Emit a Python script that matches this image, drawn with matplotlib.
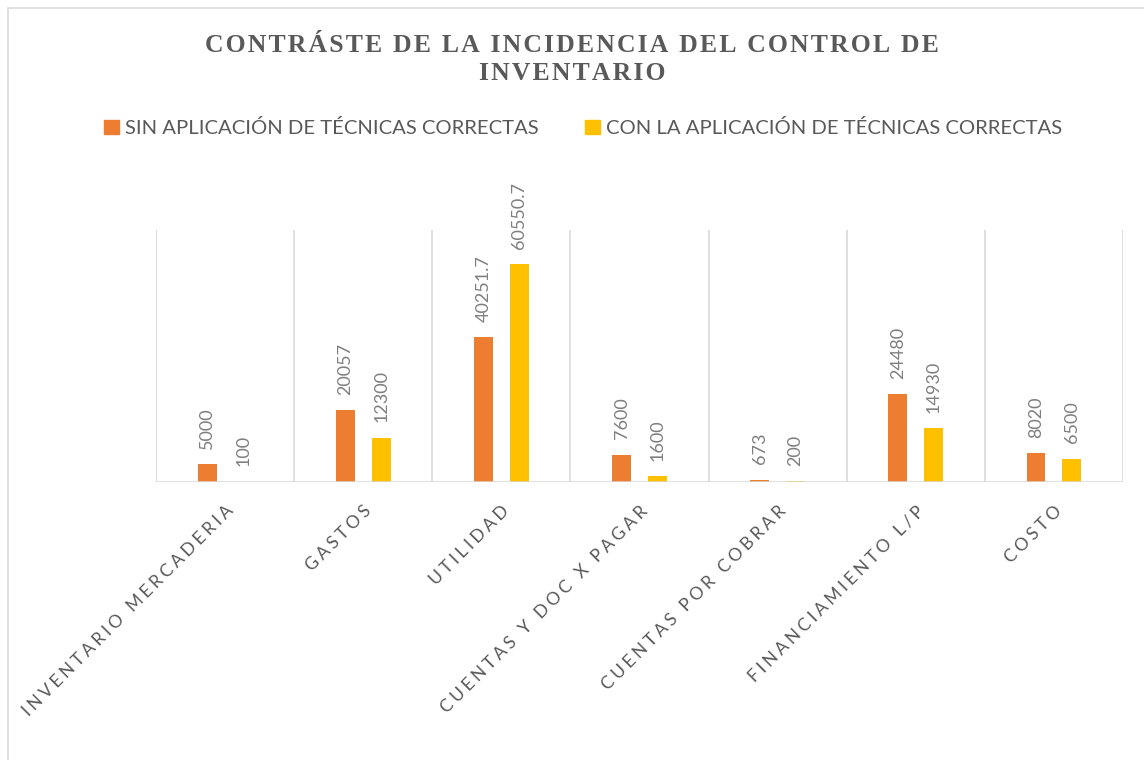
import matplotlib
matplotlib.use("Agg")
import matplotlib.pyplot as plt
from matplotlib.patches import Rectangle, Patch
import numpy as np

categories = ["INVENTARIO MERCADERIA", "GASTOS", "UTILIDAD", "CUENTAS Y DOC X PAGAR",
              "CUENTAS POR COBRAR", "FINANCIAMIENTO L/P", "COSTO"]
sin_vals = [5000, 20057, 40251.7, 7600, 673, 24480, 8020]
con_vals = [100, 12300, 60550.7, 1600, 200, 14930, 6500]
sin_labels = ["5000", "20057", "40251.7", "7600", "673", "24480", "8020"]
con_labels = ["100", "12300", "60550.7", "1600", "200", "14930", "6500"]
series_names = ["SIN APLICACIÓN DE TÉCNICAS CORRECTAS", "CON LA APLICACIÓN DE TÉCNICAS CORRECTAS"]
title_lines = ["CONTRÁSTE DE LA INCIDENCIA DEL CONTROL DE", "INVENTARIO"]

ORANGE = "#ED7D31"
YELLOW = "#FFC000"
GREY = "#595959"
LGREY = "#7F7F7F"
GRID = "#D9D9D9"

W, H = 1144, 760
fig = plt.figure(figsize=(W / 100, H / 100), dpi=100)
fig.patch.set_facecolor("white")

# outer border
fig.patches.append(Rectangle((8 / W, -0.05), 1.2, 1 - 8 / H + 0.05, transform=fig.transFigure,
                             fill=False, edgecolor=GRID, linewidth=1.2))

ax = fig.add_axes([156 / W, 1 - 482 / H, (1123 - 156) / W, (482 - 230) / H])
n = len(categories)
x = np.arange(n)
bw = 0.137
off = 0.13
ax.bar(x - off, sin_vals, bw, color=ORANGE, zorder=3)
ax.bar(x + off, con_vals, bw, color=YELLOW, zorder=3)
ax.set_xlim(-0.5, n - 0.5)
ax.set_ylim(0, 70000)

for b in np.arange(-0.5, n, 1.0):
    ax.axvline(b, color=GRID, linewidth=1.2, zorder=1)
ax.axhline(0, color=GRID, linewidth=1.8, zorder=4)

for s in ax.spines.values():
    s.set_visible(False)
ax.set_yticks([])
ax.tick_params(axis="x", length=0, pad=15)

def spaced(t, sep="\u2009"):
    return sep.join(t)

ax.set_xticks(x)
ax.set_xticklabels([spaced(c, "\u2009\u200a") for c in categories], rotation=45, ha="right",
                   rotation_mode="anchor", color=GREY, fontsize=12.6,
                   family=["Lato", "DejaVu Sans"])
for t in ax.get_xticklabels():
    t.set_x(t.get_position()[0])

for xi, v, lab in zip(x - off, sin_vals, sin_labels):
    ax.annotate(lab, (xi, v), xytext=(0, 11), textcoords="offset points", rotation=90,
                ha="center", va="bottom", color=LGREY, fontsize=13, family="Lato")
for xi, v, lab in zip(x + off, con_vals, con_labels):
    ax.annotate(lab, (xi, v), xytext=(0, 11), textcoords="offset points", rotation=90,
                ha="center", va="bottom", color=LGREY, fontsize=13, family="Lato")

tfam = ["Liberation Serif", "DejaVu Serif"]
fig.text(0.5, 1 - 46 / H, spaced(title_lines[0], "\u200a"),
         ha="center", va="center", fontsize=18.5, fontweight="bold", color=GREY, family=tfam)
fig.text(0.5, 1 - 74 / H, spaced(title_lines[1], "\u200a"),
         ha="center", va="center", fontsize=18.5, fontweight="bold", color=GREY, family=tfam)

handles = [Patch(color=ORANGE), Patch(color=YELLOW)]
fig.legend(handles, series_names, loc="center", bbox_to_anchor=(583 / W, 1 - 128 / H), ncol=2,
           frameon=False, handlelength=0.75, handleheight=0.75, handletextpad=0.3,
           columnspacing=2.3, prop={"family": "Lato", "size": 14.6}, labelcolor=GREY)

fig.savefig("out.png", dpi=100, facecolor="white")
